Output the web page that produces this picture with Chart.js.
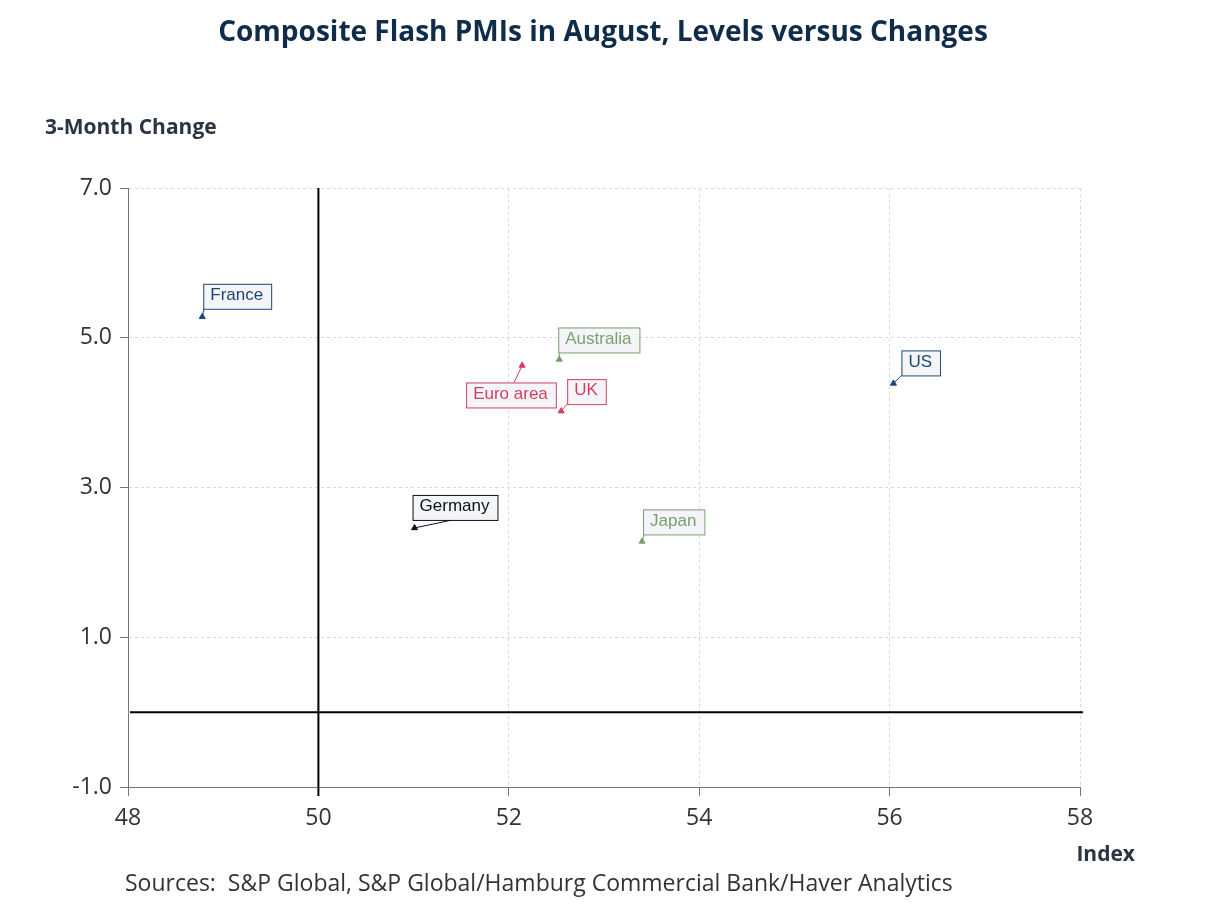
<!DOCTYPE html>
<html>
<head>
<meta charset="utf-8">
<script src="https://cdn.jsdelivr.net/npm/chart.js@4.4.1/dist/chart.umd.min.js"></script>
<style>
  html, body { margin: 0; padding: 0; background: #fff; }
  #wrap { width: 1208px; height: 906px; position: relative; }
</style>
</head>
<body>
<div id="wrap"><canvas id="pmiChart" width="1208" height="906"></canvas></div>
<script>
// Composite flash PMIs - level (x) vs 3-month change (y)
const countries = ['France', 'Australia', 'Euro area', 'UK', 'US', 'Germany', 'Japan'];
const pmiLevel = [48.78, 52.53, 52.14, 52.55, 56.04, 51.01, 53.40];
const pmiChange = [5.28, 4.71, 4.63, 4.02, 4.39, 2.46, 2.28];
const xTicks = [48, 50, 52, 54, 56, 58];
const yTicks = [7.0, 5.0, 3.0, 1.0, -1.0];
const refLevel = 50;
const refChange = 0;

const colors = {
  'France': '#1f4673', 'US': '#1f4673',
  'Australia': '#7a9e6e', 'Japan': '#7a9e6e',
  'Euro area': '#d23f5c', 'UK': '#d23f5c',
  'Germany': '#111111'
};

// label box placement relative to the point: box top-left offset, connector attach point in box
const labelPos = {
  'France':    { dx: 1,   dy: -33, ax: 1,  ay: 24 },
  'Australia': { dx: -1,  dy: -32, ax: 1,  ay: 25 },
  'Euro area': { dx: -56, dy: 17,  ax: 48, ay: 0 },
  'UK':        { dx: 6,   dy: -32, ax: 0,  ay: 25 },
  'US':        { dx: 8,   dy: -33, ax: 0,  ay: 25 },
  'Germany':   { dx: -2,  dy: -33, ax: 40, ay: 25 },
  'Japan':     { dx: 1,   dy: -32, ax: 1,  ay: 25 }
};

const points = countries.map((c, i) => ({ x: pmiLevel[i], y: pmiChange[i], name: c }));

const refLines = {
  id: 'refLines',
  beforeDatasetsDraw(chart) {
    const { ctx, chartArea, scales } = chart;
    const px = scales.x.getPixelForValue(refLevel);
    const py = scales.y.getPixelForValue(refChange);
    ctx.save();
    ctx.strokeStyle = '#000';
    ctx.lineWidth = 2;
    ctx.beginPath();
    ctx.moveTo(px, chartArea.top);
    ctx.lineTo(px, chartArea.bottom + 9);
    ctx.moveTo(chartArea.left + 2, py);
    ctx.lineTo(chartArea.right + 3, py);
    ctx.stroke();
    ctx.restore();
  }
};

const pointLabels = {
  id: 'pointLabels',
  afterDatasetsDraw(chart) {
    const { ctx } = chart;
    const meta = chart.getDatasetMeta(0);
    ctx.save();
    ctx.font = '17px "Liberation Sans", Arial, sans-serif';
    ctx.textBaseline = 'middle';
    meta.data.forEach((el, i) => {
      const name = countries[i];
      const p = labelPos[name];
      const col = colors[name];
      const w = ctx.measureText(name).width + 15;
      const h = 25;
      const bx = el.x + p.dx, by = el.y + p.dy;
      ctx.strokeStyle = col;
      ctx.lineWidth = 1;
      ctx.beginPath();
      ctx.moveTo(el.x, el.y);
      ctx.lineTo(bx + p.ax, by + p.ay);
      ctx.stroke();
      ctx.fillStyle = '#f3f5f8';
      ctx.fillRect(bx, by, w, h);
      ctx.strokeRect(bx + 0.5, by + 0.5, w, h);
      ctx.fillStyle = col;
      ctx.fillText(name, bx + 7, by + h / 2 - 1);
    });
    ctx.restore();
  }
};

const extraText = {
  id: 'extraText',
  afterDraw(chart) {
    const { ctx } = chart;
    ctx.save();
    ctx.fillStyle = '#0f2c4a';
    ctx.font = 'bold 28px "Open Sans", sans-serif';
    ctx.textAlign = 'center';
    ctx.textBaseline = 'middle';
    ctx.fillText('Composite Flash PMIs in August, Levels versus Changes', 603, 33);
    ctx.fillStyle = '#2b3541';
    ctx.font = 'bold 21px "Open Sans", sans-serif';
    ctx.textAlign = 'left';
    ctx.fillText('3-Month Change', 45, 128);
    ctx.textAlign = 'right';
    ctx.fillText('Index', 1135, 855);
    ctx.textAlign = 'left';
    ctx.fillStyle = '#333';
    ctx.font = '23px "Open Sans", sans-serif';
    ctx.fillText('Sources:  S&P Global, S&P Global/Hamburg Commercial Bank/Haver Analytics', 125, 884);
    ctx.restore();
  }
};

const ctxPmi = document.getElementById('pmiChart').getContext('2d');
new Chart(ctxPmi, {
  type: 'scatter',
  data: {
    datasets: [{
      data: points,
      pointStyle: 'triangle',
      pointRadius: 3.5,
      pointHoverRadius: 3.5,
      backgroundColor: countries.map(c => colors[c]),
      borderColor: countries.map(c => colors[c]),
      borderWidth: 1
    }]
  },
  options: {
    responsive: false,
    animation: false,
    layout: { padding: { top: 188, left: 0, right: 128, bottom: 79 } },
    plugins: {
      legend: { display: false },
      tooltip: { enabled: false }
    },
    scales: {
      x: {
        type: 'linear',
        min: 48, max: 58,
        afterBuildTicks: s => { s.ticks = xTicks.map(v => ({ value: v })); },
        afterFit: s => { s.height = 40; },
        border: { color: '#6b7787', width: 1, dash: [3, 3] },
        grid: { color: '#d8d8d8', tickColor: '#6b7787', tickLength: 9, tickBorderDash: [] },
        ticks: { color: '#333', font: { family: '"Open Sans", sans-serif', size: 23 }, padding: 9 }
      },
      y: {
        type: 'linear',
        min: -1, max: 7,
        afterBuildTicks: s => { s.ticks = yTicks.map(v => ({ value: v })); },
        afterFit: s => { s.width = 128; },
        border: { color: '#6b7787', width: 1, dash: [3, 3] },
        grid: { color: '#d8d8d8', tickColor: '#6b7787', tickLength: 8, tickBorderDash: [] },
        ticks: { color: '#333', font: { family: '"Open Sans", sans-serif', size: 23 }, padding: 8,
                 callback: v => v.toFixed(1) }
      }
    }
  },
  plugins: [refLines, pointLabels, extraText]
});
</script>
</body>
</html>
